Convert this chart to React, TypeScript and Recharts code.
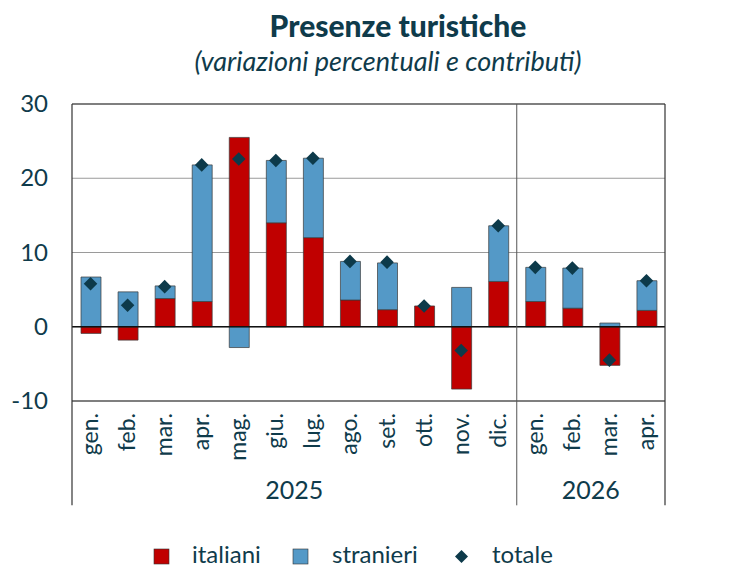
import React from 'react';
import {
  ComposedChart,
  Bar,
  Line,
  XAxis,
  YAxis,
  CartesianGrid,
  ReferenceLine,
  Legend,
} from 'recharts';

const months = ['gen.', 'feb.', 'mar.', 'apr.', 'mag.', 'giu.', 'lug.', 'ago.', 'set.', 'ott.', 'nov.', 'dic.', 'gen.', 'feb.', 'mar.', 'apr.'];
const italiani = [-0.9, -1.8, 3.8, 3.4, 25.5, 14.0, 12.0, 3.6, 2.3, 2.8, -8.4, 6.1, 3.4, 2.5, -5.2, 2.2];
const stranieri = [6.7, 4.7, 1.7, 18.4, -2.8, 8.4, 10.7, 5.2, 6.3, 0, 5.3, 7.5, 4.6, 5.4, 0.5, 4.0];
const totale = [5.8, 2.9, 5.4, 21.8, 22.6, 22.4, 22.7, 8.8, 8.7, 2.8, -3.2, 13.6, 8.0, 7.9, -4.5, 6.2];
const years = ['2025', '2026'];
const yearMonthCounts = [12, 4];
const yTicks = [-10, 0, 10, 20, 30];

const TEXT = '#0f3b4b';
const RED = '#c00000';
const BLUE = '#5499c7';
const DIAMOND = '#0d3a4a';
const FONT = 'Lato, "Open Sans", sans-serif';

const data = months.map((m, i) => ({
  x: i + 0.5,
  month: m,
  italiani: italiani[i],
  stranieri: stranieri[i],
  totale: totale[i],
}));

const monthTicks = months.map((_, i) => i + 0.5);
const yearBounds: number[] = [];
const yearCenters: number[] = [];
{
  let acc = 0;
  yearBounds.push(0);
  yearMonthCounts.forEach((c) => {
    yearCenters.push(acc + c / 2);
    acc += c;
    yearBounds.push(acc);
  });
}
const total = months.length;

const MonthTick = (props: any) => {
  const { x, payload } = props;
  const idx = Math.floor(payload.value);
  return (
    <text
      transform={`translate(${x + 7.5},413) rotate(-90)`}
      textAnchor="end"
      fontSize={23}
      fontFamily={FONT}
      fill={TEXT}
    >
      {months[idx]}
    </text>
  );
};

const YearTick = (props: any) => {
  const { x, payload } = props;
  const idx = yearCenters.indexOf(payload.value);
  return (
    <text x={x} y={499} textAnchor="middle" fontSize={25} fontFamily={FONT} fill={TEXT}>
      {years[idx]}
    </text>
  );
};

const LeftTick = (props: any) => {
  const { y, payload } = props;
  return (
    <text x={48} y={y} dy={8} textAnchor="end" fontSize={24} fontFamily={FONT} fill={TEXT}>
      {payload.value}
    </text>
  );
};

const RightTick = (props: any) => {
  const { y, payload } = props;
  return (
    <text x={690} y={y} dy={8} textAnchor="start" fontSize={24} fontFamily={FONT} fill={TEXT}>
      {payload.value}
    </text>
  );
};

const Diamond = (props: any) => {
  const { cx, cy, index } = props;
  if (cx == null || cy == null) return <g key={`d-${index}`} />;
  const r = 6.8;
  return (
    <path
      key={`d-${index}`}
      d={`M${cx},${cy - r} L${cx + r},${cy} L${cx},${cy + r} L${cx - r},${cy} Z`}
      fill={DIAMOND}
    />
  );
};

const LegendContent = () => (
  <svg width={729} height={29} style={{ display: 'block' }}>
    <rect x={154} y={10} width={15} height={15} fill={RED} stroke="#333" strokeWidth={0.6} />
    <text x={192} y={24} fontSize={24} fontFamily={FONT} fill={TEXT}>italiani</text>
    <rect x={293} y={10} width={15} height={15} fill={BLUE} stroke="#333" strokeWidth={0.6} />
    <text x={332} y={24} fontSize={24} fontFamily={FONT} fill={TEXT}>stranieri</text>
    <path d="M461.5,11 L468,17.5 L461.5,24 L455,17.5 Z" fill={DIAMOND} />
    <text x={492} y={24} fontSize={24} fontFamily={FONT} fill={TEXT}>totale</text>
  </svg>
);

export default function App() {
  const lineStroke = '#333';
  return (
    <div style={{ position: 'absolute', left: 0, top: 0, width: 729, height: 569, background: '#fff' }}>
      <svg width={729} height={90} style={{ position: 'absolute', left: 0, top: 0 }}>
        <text x={398} y={37} textAnchor="middle" fontSize={30} fontWeight={900} fontFamily={FONT} fill={TEXT}>
          Presenze turistiche
        </text>
        <text x={388} y={71} textAnchor="middle" fontSize={27} fontStyle="italic" fontFamily={FONT} fill={TEXT}>
          (variazioni percentuali e contributi)
        </text>
      </svg>
      <ComposedChart
        width={729}
        height={569}
        data={data}
        stackOffset="sign"
        margin={{ top: 104, right: 0, left: 0, bottom: 68 }}
      >
        <CartesianGrid
          xAxisId="main"
          yAxisId="left"
          vertical={false}
          stroke="#9a9a9a"
          strokeWidth={1}
        />
        <XAxis
          xAxisId="main"
          dataKey="x"
          type="number"
          domain={[0, total]}
          ticks={monthTicks}
          interval={0}
          axisLine={false}
          tickLine={false}
          height={60}
          tick={<MonthTick />}
        />
        <XAxis
          xAxisId="year"
          dataKey="x"
          type="number"
          domain={[0, total]}
          ticks={yearCenters}
          interval={0}
          axisLine={false}
          tickLine={false}
          height={40}
          tick={<YearTick />}
        />
        <YAxis
          yAxisId="left"
          domain={[-10, 30]}
          ticks={yTicks}
          interval={0}
          width={72}
          axisLine={false}
          tickLine={false}
          tick={<LeftTick />}
        />
        <YAxis
          yAxisId="right"
          orientation="right"
          domain={[-10, 30]}
          ticks={yTicks}
          interval={0}
          width={64}
          axisLine={false}
          tickLine={false}
          tick={<RightTick />}
        />
        <Bar
          xAxisId="main"
          yAxisId="left"
          dataKey="italiani"
          name="italiani"
          stackId="a"
          fill={RED}
          stroke="#3a3a3a"
          strokeWidth={0.7}
          barSize={20}
          isAnimationActive={false}
        />
        <Bar
          xAxisId="main"
          yAxisId="left"
          dataKey="stranieri"
          name="stranieri"
          stackId="a"
          fill={BLUE}
          stroke="#3a3a3a"
          strokeWidth={0.7}
          barSize={20}
          isAnimationActive={false}
        />
        <ReferenceLine xAxisId="main" yAxisId="left" y={0} stroke="#111" strokeWidth={1.3} />
        <ReferenceLine xAxisId="main" yAxisId="left" y={30} stroke={lineStroke} strokeWidth={1.2} />
        <ReferenceLine xAxisId="main" yAxisId="left" y={-10} stroke={lineStroke} strokeWidth={1.2} />
        {yearBounds.map((b) => (
          <ReferenceLine
            key={`vb-${b}`}
            xAxisId="main"
            yAxisId="left"
            segment={[{ x: b, y: 30 }, { x: b, y: -24.05 }]}
            ifOverflow="visible"
            stroke={b === 0 || b === total ? lineStroke : '#555'}
            strokeWidth={b === 0 || b === total ? 1.2 : 1}
          />
        ))}
        <Line
          xAxisId="main"
          yAxisId="left"
          dataKey="totale"
          name="totale"
          stroke="transparent"
          strokeWidth={0}
          dot={<Diamond />}
          activeDot={false}
          isAnimationActive={false}
        />
        <Legend
          layout="horizontal"
          verticalAlign="middle"
          align="center"
          content={<LegendContent />}
          wrapperStyle={{ top: 539, left: 0, width: 729, height: 29 }}
        />
      </ComposedChart>
    </div>
  );
}
